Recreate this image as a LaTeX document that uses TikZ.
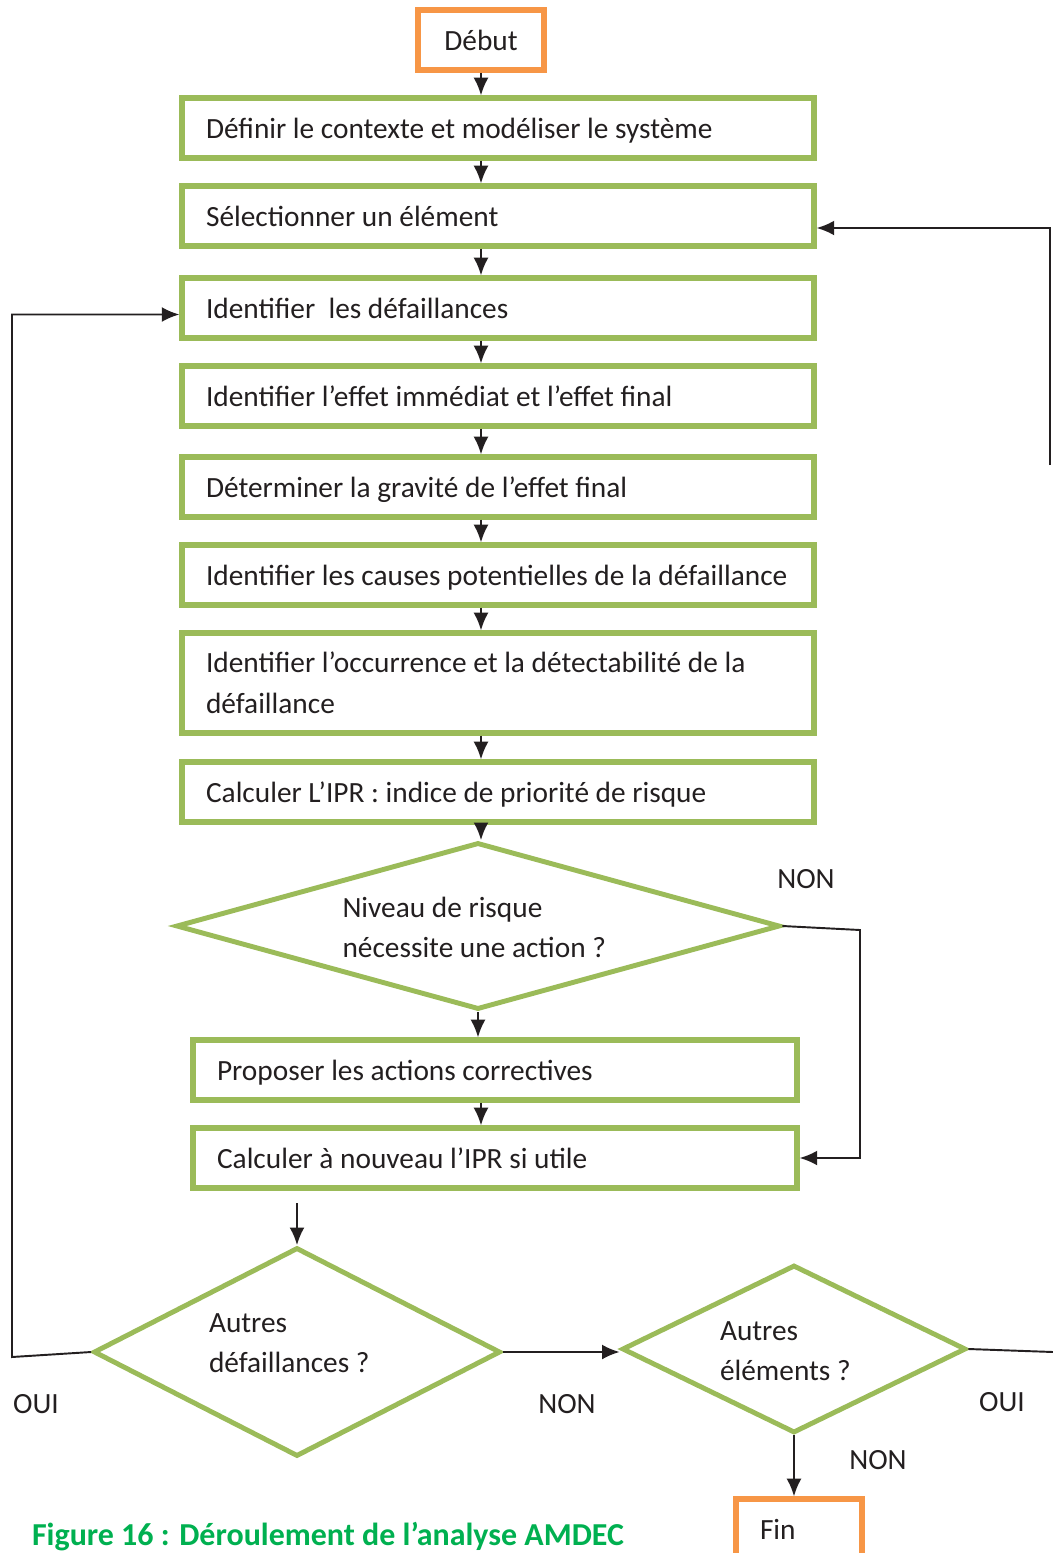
\documentclass[tikz,border=0pt]{standalone}
\usepackage{fontspec}
\setmainfont{Carlito}
\usetikzlibrary{shapes.geometric,arrows.meta}

\definecolor{boxgreen}{HTML}{9BBB59}
\definecolor{startorange}{HTML}{F79646}
\definecolor{captiongreen}{HTML}{00B050}
\definecolor{inkgray}{HTML}{231F20}

\tikzset{
  step box/.style={draw=boxgreen, line width=3.1pt, rectangle, text width=11.68cm, align=flush left,
    minimum height=1.2cm, inner xsep=0.48cm, inner ysep=0pt, text height=13.4pt, text depth=2pt},
  short box/.style={step box, text width=11.12cm},
  end box/.style={draw=startorange, line width=3.1pt, rectangle, minimum width=2.52cm,
    minimum height=1.2cm, inner sep=0pt},
  question/.style={draw=boxgreen, line width=2.8pt, diamond, inner sep=0pt, align=flush left,
    text height=15pt, text depth=25.2pt},
  link/.style={->, line width=1.1pt, draw=inkgray},
  answer/.style={inkgray}
}

\begin{document}
\begin{tikzpicture}[x=0.02cm, y=-0.02cm, >={Latex[length=10pt,width=8.5pt]},
  font=\fontsize{16.7}{23.2}\selectfont, text=inkgray]

  \useasboundingbox (0,0) rectangle (1053,1553);

  \node[end box] (debut) at (481,40) {Début};
  \node[step box] (box1) at (498,128) {Définir le contexte et modéliser le système};
  \node[step box] (box2) at (498,216) {Sélectionner un élément};
  \node[step box] (box3) at (498,308) {Identifier\ \ les défaillances};
  \node[step box] (box4) at (498,396) {Identifier l’effet immédiat et l’effet final};
  \node[step box] (box5) at (498,487) {Déterminer la gravité de l’effet final};
  \node[step box] (box6) at (498,575) {Identifier les causes potentielles de la défaillance};
  \node[step box, minimum height=2cm, text height=13.8pt, text depth=25.2pt] (box7) at (498,683)
    {Identifier l’occurrence et la détectabilité de la\\défaillance};
  \node[step box] (box8) at (498,792) {Calculer L’IPR : indice de priorité de risque};

  \node[question, aspect=3.62, minimum width=12.08cm, minimum height=3.34cm, text width=5.42cm]
    (risk) at (478,926) {Niveau de risque\\nécessite une action ?};

  \node[short box] (box9) at (495,1070) {Proposer les actions correctives};
  \node[short box] (box10) at (495,1158) {Calculer à nouveau l’IPR si utile};

  \node[question, aspect=1.95, minimum width=8.14cm, minimum height=4.18cm, text width=3.52cm,
    text height=2.5pt] (morefail) at (297,1352) {Autres\\défaillances ?};
  \node[question, aspect=2.05, minimum width=6.88cm, minimum height=3.36cm, text width=2.96cm]
    (moreelem) at (794,1349) {Autres\\éléments ?};

  \node[end box, text width=1.56cm, align=flush left, inner xsep=0.48cm] (fin) at (799,1529) {Fin};

  % main flow
  \draw[link] (debut.south) -- (box1.north -| debut.south);
  \foreach \a/\b in {box1/box2, box2/box3, box3/box4, box4/box5, box5/box6, box6/box7, box7/box8}
    \draw[link] (\a.south -| debut.south) -- (\b.north -| debut.south);
  \draw[link] (box8.south -| debut.south) -- (risk.north -| debut.south);
  \draw[link] (risk.south) -- (risk.south |- box9.north);
  \draw[link] (box9.south -| debut.south) -- (box10.north -| debut.south);

  \coordinate (drop) at (297,1203);
  \draw[link] (drop) -- (morefail.north);
  \draw[link] (morefail.east) -- (morefail.east -| moreelem.west);
  \draw[link] (moreelem.south) -- (moreelem.south |- fin.north);

  % loops
  \coordinate (riskturn) at (860,930);
  \draw[link] (risk.east) -- (riskturn) |- (box10.east);

  \coordinate (failturn) at (12,1357);
  \draw[link] (morefail.west) -- (failturn) |- ([yshift=-0.13cm]box3.west);

  \coordinate (elemend) at (1053,1352);
  \draw[line width=1.1pt, inkgray] (moreelem.east) -- (elemend);
  \coordinate (elemturn) at (1050,465);
  \draw[link] (elemturn) |- ([yshift=-0.24cm]box2.east);

  \node[answer] (non1) at (806,879) {NON};
  \node[answer] (oui1) at (36,1404) {OUI};
  \node[answer] (non2) at (567,1404) {NON};
  \node[answer] (oui2) at (1002,1402) {OUI};
  \node[answer] (non3) at (878,1460) {NON};

  \node[text=captiongreen, font=\fontsize{18.2}{20}\selectfont\bfseries] (caption) at (328,1537)
    {Figure 16 : Déroulement de l’analyse AMDEC};

\end{tikzpicture}
\end{document}
